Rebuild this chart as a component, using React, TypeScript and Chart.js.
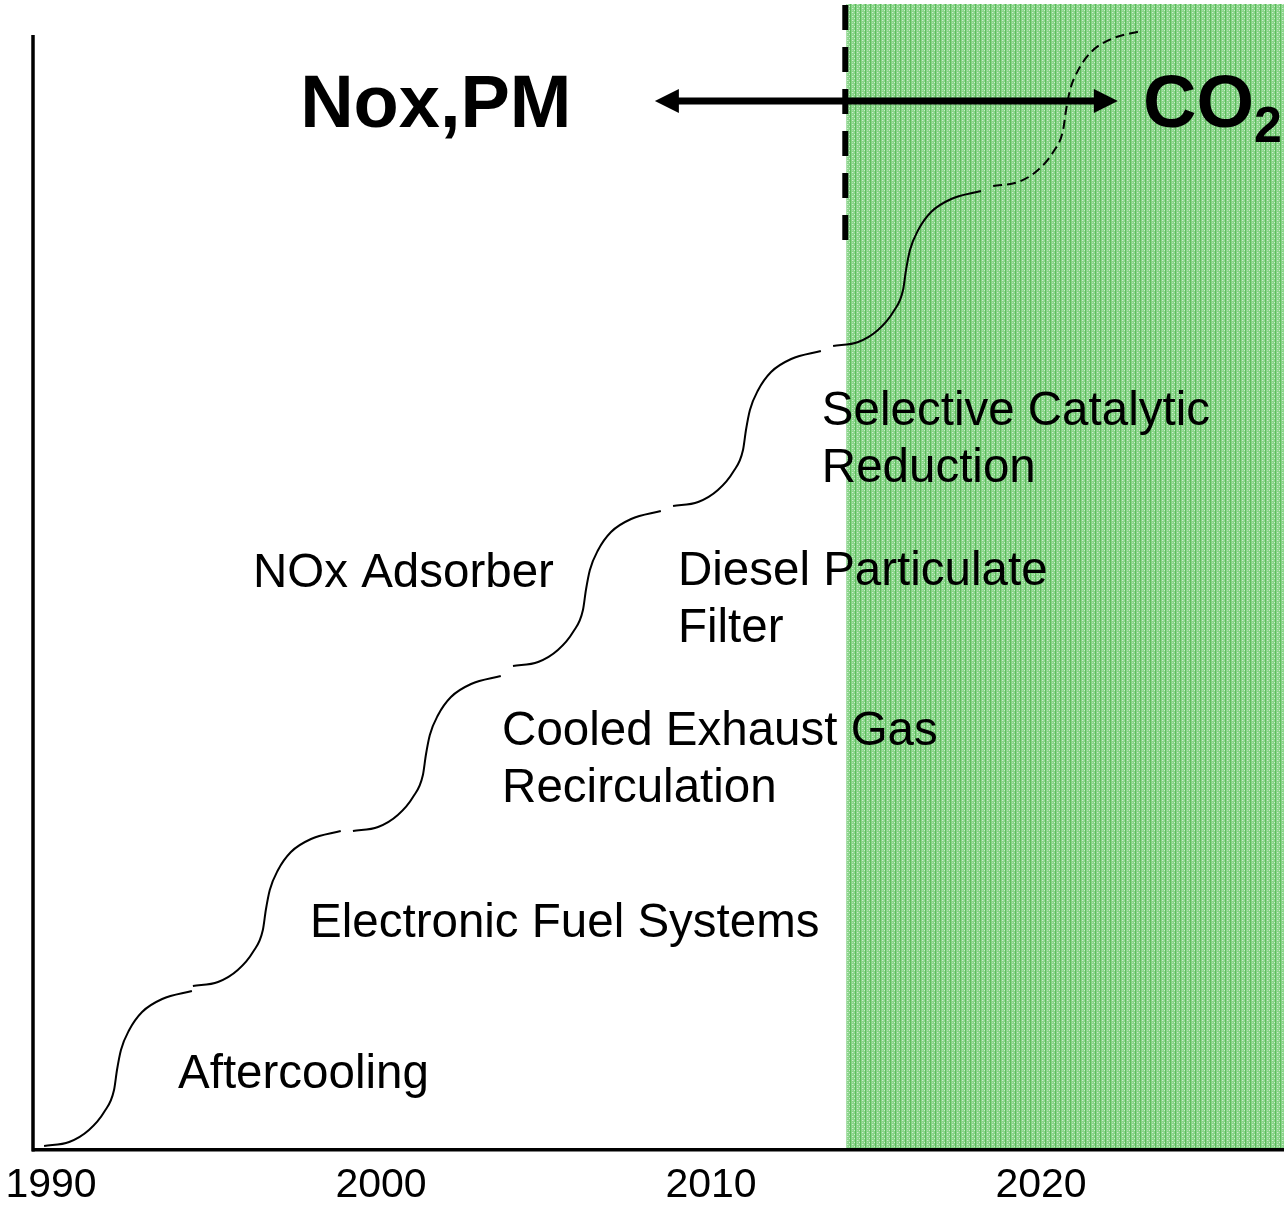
import React, { useEffect, useRef } from "react";
import { Chart, registerables } from "chart.js";

Chart.register(...registerables);

// ---- axis ranges ----
const X_MIN = 1989.485;
const X_MAX = 2027.364;
const Y_MIN = 0;
const Y_MAX = 115;

// ---- tick labels ----
const tickYears = [1990, 2000, 2010, 2020];

// ---- technology steps (year, level) ----
const stepYears = [
  [1989.79, 1990.55, 1991.15, 1991.61, 1991.91, 1992.0, 1992.12, 1992.37, 1992.76, 1993.37, 1994.27],
  [1994.3, 1995.06, 1995.66, 1996.12, 1996.42, 1996.51, 1996.63, 1996.88, 1997.27, 1997.88, 1998.78],
  [1999.15, 1999.91, 2000.51, 2000.97, 2001.27, 2001.36, 2001.48, 2001.73, 2002.12, 2002.73, 2003.63],
  [2004.0, 2004.76, 2005.36, 2005.82, 2006.12, 2006.21, 2006.33, 2006.58, 2006.97, 2007.58, 2008.48],
  [2008.85, 2009.61, 2010.21, 2010.67, 2010.97, 2011.06, 2011.18, 2011.43, 2011.82, 2012.43, 2013.33],
  [2013.7, 2014.46, 2015.06, 2015.52, 2015.82, 2015.91, 2016.03, 2016.28, 2016.67, 2017.28, 2018.18],
  [2018.55, 2019.31, 2019.91, 2020.37, 2020.67, 2020.76, 2020.88, 2021.13, 2021.52, 2022.13, 2023.03],
];
const stepLevels = [
  [0.4, 0.8, 2.0, 3.8, 6.0, 8.0, 10.0, 12.0, 13.8, 15.1, 15.9],
  [16.4, 16.8, 18.0, 19.8, 22.0, 24.0, 26.0, 28.0, 29.8, 31.1, 31.9],
  [31.9, 32.3, 33.5, 35.3, 37.5, 39.5, 41.5, 43.5, 45.3, 46.6, 47.4],
  [48.4, 48.8, 50.0, 51.8, 54.0, 56.0, 58.0, 60.0, 61.8, 63.1, 63.9],
  [64.4, 64.8, 66.0, 67.8, 70.0, 72.0, 74.0, 76.0, 77.8, 79.1, 79.9],
  [80.4, 80.8, 82.0, 83.8, 86.0, 88.0, 90.0, 92.0, 93.8, 95.1, 95.9],
  [96.4, 96.8, 98.0, 99.8, 102.0, 104.0, 106.0, 108.0, 109.8, 111.1, 111.9],
];
const projectedStepIndex = 6;

// ---- step labels ----
const labelLines = [
  ["Aftercooling"],
  ["Electronic Fuel Systems"],
  ["Cooled Exhaust Gas", "Recirculation"],
  ["NOx Adsorber"],
  ["Diesel Particulate", "Filter"],
  ["Selective Catalytic", "Reduction"],
];
const labelYears = [1993.85, 1997.85, 2003.67, 1996.12, 2009.0, 2013.36];
const labelLevels = [6.2, 21.3, 40.5, 56.3, 56.5, 72.5];

// ---- regime split ----
const regimeStartYear = 2014.1;
const regimeTopLevel = 114.6;
const dividerTopLevel = 114.5;
const dividerBottomLevel = 91;
const yAxisTopLevel = 111.5;

// ---- headline arrow ----
const leftHeading = "Nox,PM";
const leftHeadingYear = 1997.55;
const rightHeading = "CO";
const rightHeadingSub = "2";
const rightHeadingYear = 2023.09;
const headingLevel = 102.3;
const arrowFromYear = 2008.3;
const arrowToYear = 2022.33;
const arrowLevel = 104.9;

const FONT = '"Liberation Sans", Arial, Helvetica, sans-serif';

function makeGreenPattern(ctx: CanvasRenderingContext2D) {
  const c = document.createElement("canvas");
  c.width = 5;
  c.height = 4;
  const g = c.getContext("2d")!;
  g.fillStyle = "rgb(136,212,136)";
  g.fillRect(0, 0, 5, 4);
  g.fillStyle = "rgb(92,188,92)";
  g.fillRect(0, 0, 1, 4);
  g.fillStyle = "rgb(205,238,205)";
  g.fillRect(2, 0, 1, 1);
  g.fillRect(4, 2, 1, 1);
  g.fillStyle = "rgb(165,224,165)";
  g.fillRect(3, 0, 1, 1);
  g.fillRect(2, 2, 1, 1);
  return ctx.createPattern(c, "repeat");
}

const decorPlugin = {
  id: "decor",
  beforeDatasetsDraw(chart: any) {
    const { ctx, scales } = chart;
    const x = scales.x;
    const y = scales.y;
    ctx.save();
    const gx = x.getPixelForValue(regimeStartYear);
    const gTop = y.getPixelForValue(regimeTopLevel);
    const gBottom = y.getPixelForValue(0);
    const pattern = makeGreenPattern(ctx);
    ctx.fillStyle = pattern || "rgb(130,208,130)";
    ctx.fillRect(gx, gTop, x.right - gx, gBottom - 2 - gTop);

    ctx.strokeStyle = "#000";
    ctx.lineWidth = 3.5;
    ctx.beginPath();
    ctx.moveTo(x.left - 1, y.getPixelForValue(yAxisTopLevel));
    ctx.lineTo(x.left - 1, gBottom + 1.5);
    ctx.stroke();

    ctx.lineWidth = 6;
    ctx.setLineDash([25, 17]);
    ctx.beginPath();
    ctx.moveTo(gx - 1, y.getPixelForValue(dividerTopLevel));
    ctx.lineTo(gx - 1, y.getPixelForValue(dividerBottomLevel));
    ctx.stroke();
    ctx.restore();
  },
  afterDatasetsDraw(chart: any) {
    const { ctx, scales } = chart;
    const x = scales.x;
    const y = scales.y;
    ctx.save();
    ctx.fillStyle = "#000";
    ctx.strokeStyle = "#000";

    // double arrow
    const ax1 = x.getPixelForValue(arrowFromYear);
    const ax2 = x.getPixelForValue(arrowToYear);
    const ay = y.getPixelForValue(arrowLevel);
    const headLen = 24;
    const headHalf = 12;
    ctx.lineWidth = 7;
    ctx.beginPath();
    ctx.moveTo(ax1 + headLen - 2, ay);
    ctx.lineTo(ax2 - headLen + 2, ay);
    ctx.stroke();
    ctx.beginPath();
    ctx.moveTo(ax1, ay);
    ctx.lineTo(ax1 + headLen, ay - headHalf);
    ctx.lineTo(ax1 + headLen, ay + headHalf);
    ctx.closePath();
    ctx.fill();
    ctx.beginPath();
    ctx.moveTo(ax2, ay);
    ctx.lineTo(ax2 - headLen, ay - headHalf);
    ctx.lineTo(ax2 - headLen, ay + headHalf);
    ctx.closePath();
    ctx.fill();

    // headings
    ctx.textAlign = "left";
    ctx.textBaseline = "alphabetic";
    ctx.font = `bold 74px ${FONT}`;
    const hy = y.getPixelForValue(headingLevel);
    ctx.fillText(leftHeading, x.getPixelForValue(leftHeadingYear), hy);
    const cx = x.getPixelForValue(rightHeadingYear);
    ctx.fillText(rightHeading, cx, hy);
    const w = ctx.measureText(rightHeading).width;
    ctx.font = `bold 50px ${FONT}`;
    ctx.fillText(rightHeadingSub, cx + w, hy + 15);

    // step labels
    ctx.font = `47.5px ${FONT}`;
    labelLines.forEach((lines, i) => {
      const lx = x.getPixelForValue(labelYears[i]);
      const ly = y.getPixelForValue(labelLevels[i]);
      lines.forEach((t, k) => ctx.fillText(t, lx, ly + k * 57));
    });
    ctx.restore();
  },
};

export default function App() {
  const ref = useRef<HTMLCanvasElement>(null);
  useEffect(() => {
    const datasets = stepYears.map((xs, i) => ({
      data: xs.map((v, j) => ({ x: v, y: stepLevels[i][j] })),
      borderColor: "#000",
      backgroundColor: "#000",
      borderWidth: 2,
      borderDash: i === projectedStepIndex ? [9, 5] : [],
      pointRadius: 0,
      cubicInterpolationMode: "monotone" as const,
      fill: false,
    }));
    const chart = new Chart(ref.current!, {
      type: "line",
      data: { datasets },
      options: {
        animation: false,
        responsive: false,
        devicePixelRatio: 1,
        layout: { padding: { left: 34, right: 0, top: 0, bottom: 0 } },
        plugins: { legend: { display: false }, tooltip: { enabled: false } },
        scales: {
          x: {
            type: "linear",
            min: X_MIN,
            max: X_MAX,
            grid: { display: false, drawTicks: false },
            border: { display: true, color: "#000", width: 3.5 },
            afterBuildTicks: (s: any) => {
              s.ticks = tickYears.map((v) => ({ value: v }));
            },
            afterFit: (s: any) => {
              s.height = 56;
              s.paddingLeft = 0;
              s.paddingRight = 0;
            },
            ticks: {
              callback: (v: any) => String(v),
              color: "#000",
              font: { family: FONT, size: 41, lineHeight: 1 },
              padding: 15,
              maxRotation: 0,
              autoSkip: false,
            },
          },
          y: { type: "linear", display: false, min: Y_MIN, max: Y_MAX },
        },
      },
      plugins: [decorPlugin],
    } as any);
    return () => chart.destroy();
  }, []);
  return (
    <div style={{ position: "fixed", left: 0, top: 0, width: 1284, height: 1206, background: "#fff" }}>
      <canvas ref={ref} width={1284} height={1206} style={{ display: "block", width: 1284, height: 1206 }} />
    </div>
  );
}
